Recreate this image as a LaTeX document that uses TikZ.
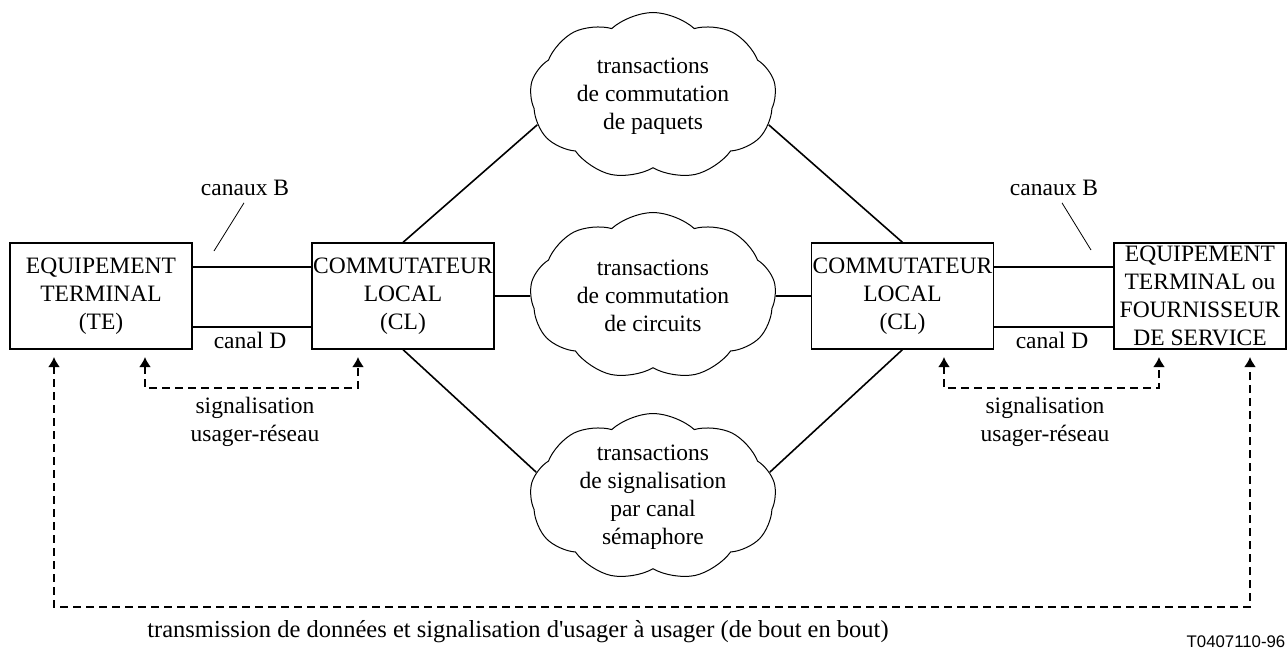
\documentclass[tikz,border=0pt]{standalone}
\usepackage{fontspec}
\setmainfont{Liberation Serif}
\newfontfamily\refsans{Liberation Sans}
\usepackage{tikz}
\usetikzlibrary{shapes, arrows.meta}

\begin{document}
\begin{tikzpicture}[x=0.5pt, y=-0.5pt,
        every node/.style={font=\fontsize{11.75}{14}\selectfont, align=center},
        unit/.style={draw, line width=0.6pt, inner sep=0pt, minimum height=53pt},
        nuage/.style={draw, cloud, cloud puffs=9, cloud puff arc=85, aspect=1.5,
            line width=0.5pt, inner sep=0pt, minimum width=123pt, minimum height=83.5pt},
        link/.style={line width=0.8pt},
        sig/.style={line width=1pt, dash pattern=on 4pt off 2.5pt,
            >={Latex[length=5pt,width=6pt]}, <->}]
        \useasboundingbox (0,0) rectangle (1287,648);
        \node[unit, minimum width=91pt] (te) at (101,296) {EQUIPEMENT\\TERMINAL\\(TE)};
        \node[unit, minimum width=91pt] (cl1) at (403,296) {COMMUTATEUR\\LOCAL\\(CL)};
        \node[unit, minimum width=91pt] (cl2) at (902.5,296) {COMMUTATEUR\\LOCAL\\(CL)};
        \node[unit, minimum width=86pt] (fs) at (1200,296)
        {EQUIPEMENT\\TERMINAL ou\\FOURNISSEUR\\DE SERVICE};
        \node[nuage, label=center:{transactions\\de commutation\\de paquets}] (c1) at (653,96) {};
        \node[nuage, label=center:{transactions\\de commutation\\de circuits}] (c2) at (653,296) {};
        \node[nuage, label=center:{transactions\\de signalisation\\par canal\\sémaphore}] (c3) at (653,497) {};
        \draw[link] ([yshift=14.5pt]te.east) -- ([yshift=14.5pt]cl1.west);
        \draw[link] ([yshift=-15.5pt]te.east) -- ([yshift=-15.5pt]cl1.west);
        \draw[link] ([yshift=14.5pt]cl2.east) -- ([yshift=14.5pt]fs.west);
        \draw[link] ([yshift=-15.5pt]cl2.east) -- ([yshift=-15.5pt]fs.west);
        \draw[link] (cl1) -- (c2);
        \draw[link] (c2) -- (cl2);
        \draw[link] (cl1.north) -- (c1.194);
        \draw[link] (cl1.south) -- (c3.168);
        \draw[link] (cl2.north) -- (c1.346);
        \draw[link] (cl2.south) -- (c3.12);
        \node (cb1) at (245,188) {canaux B};
        \node (cb2) at (1054,188) {canaux B};
        \coordinate (cb1end) at (214,251);
        \coordinate (cb2end) at (1091,250);
        \draw[line width=0.4pt] ([xshift=-0.5pt]cb1.south) -- (cb1end);
        \draw[line width=0.4pt] ([xshift=4pt]cb2.south) -- (cb2end);
        \node (cd1) at (250,340) {canal D};
        \node (cd2) at (1052,340) {canal D};
        \node (ur1) at (255,422) {signalisation\\usager-réseau};
        \node (ur2) at (1045,422) {signalisation\\usager-réseau};
        \coordinate (mid) at (0,388);
        \coordinate (bot) at (0,607);
        \coordinate (t1) at (54,357);
        \coordinate (t2) at (145,357);
        \coordinate (t3) at (358,357);
        \coordinate (t4) at (944,357);
        \coordinate (t5) at (1159,357);
        \coordinate (t6) at (1250,357);
        \draw[sig] (t2) -- (t2 |- mid) -- (t3 |- mid) -- (t3);
        \draw[sig] (t4) -- (t4 |- mid) -- (t5 |- mid) -- (t5);
        \draw[sig] (t1) -- (t1 |- bot) -- (t6 |- bot) -- (t6);
        \node[font=\fontsize{12.25}{14}\selectfont] (bb) at (518,632)
        {transmission de données et signalisation d\textquotesingle usager à usager (de bout en bout)};
        \node[font=\refsans\fontsize{8.4}{10}\selectfont, anchor=base] (ref) at (1236,647) {T0407110-96};
    \end{tikzpicture}
\end{document}
